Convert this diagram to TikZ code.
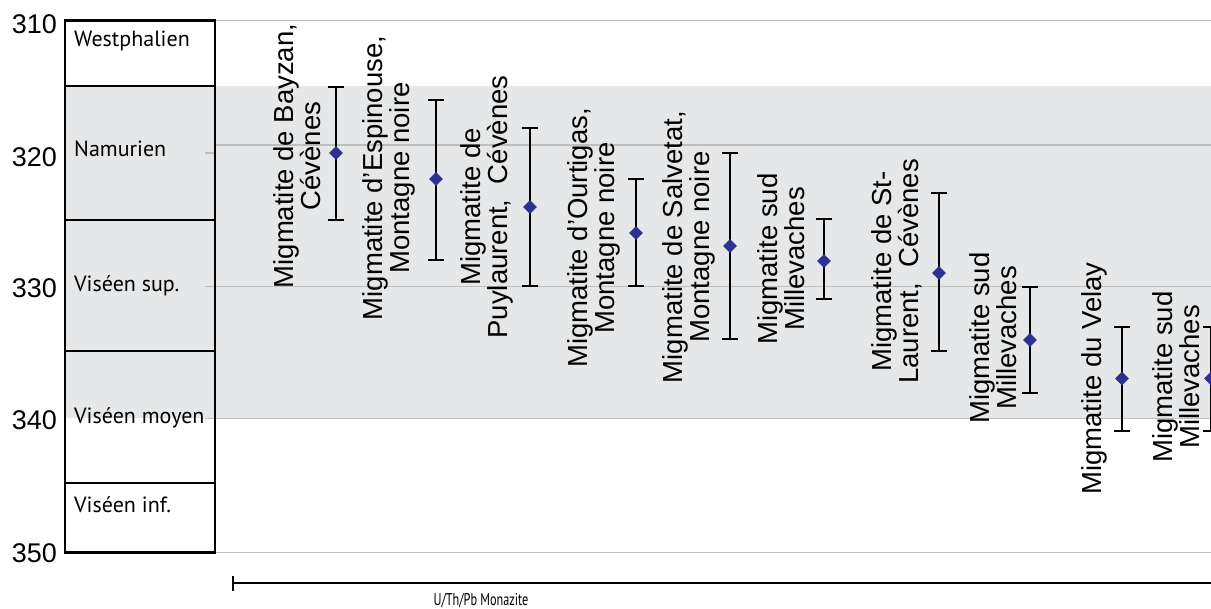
\documentclass[tikz,border=0pt]{standalone}
\usepackage{fontspec}
\setmainfont{Liberation Sans}
\newfontfamily\myriad{PT Sans}
\usetikzlibrary{shapes.geometric}
\definecolor{bandc}{RGB}{230,231,232}
\definecolor{gridc}{RGB}{190,190,190}
\definecolor{navyc}{RGB}{46,49,146}
\tikzset{
  gridline/.style={gridc, line width=1.3pt},
  boxline/.style={black, line width=2.5pt},
  stage/.style={anchor=base west, inner sep=0pt, font=\myriad\fontsize{22}{24}\selectfont},
  agenum/.style={anchor=east, inner sep=0pt, font=\fontsize{27}{30}\selectfont},
  lbl/.style={rotate=90, anchor=south, align=center, inner sep=0pt, font=\fontsize{27.5}{27}\selectfont},
  ebar/.style={black, line width=2pt},
  diam/.style={diamond, aspect=1, minimum width=14pt, minimum height=14pt, inner sep=0pt, fill=navyc, draw=none},
}
\begin{document}
\begin{tikzpicture}[x=1pt,y=-1pt]
\useasboundingbox (0,0) rectangle (1211,609);
\clip (0,0) rectangle (1211,609);
% shaded band
\fill[bandc] (65,86) rectangle (1211,418.3);
% grid lines
\foreach \y in {20.7,145,286.7,418.3,552.3} \draw[gridline] (215,\y) -- (1211,\y);
\foreach \y in {153,286.7,418.3} \draw[gridline] (205,\y) -- (215,\y);
% stratigraphic column
\draw[boxline] (65,20.7) rectangle (215,552.3);
\foreach \y in {86,220,351,483} \draw[boxline] (65,\y) -- (215,\y);
\node[stage] (s1) at (74,47) {Westphalien};
\node[stage] (s2) at (74,157) {Namurien};
\node[stage] (s3) at (74,292) {Viséen sup.};
\node[stage] (s4) at (74,424) {Viséen moyen};
\node[stage] (s5) at (74,513) {Viséen inf.};
% age numbers
\node[agenum] (a310) at (57,24) {310};
\node[agenum] (a320) at (57,157) {320};
\node[agenum] (a330) at (57,288) {330};
\node[agenum] (a340) at (57,420) {340};
\node[agenum] (a350) at (57,553) {350};
% error bars and diamonds
\foreach \n/\x/\t/\m/\b in {1/336/87/153/220, 2/436/100/179/260, 3/530/128/207/286, 4/636/179/233/286, 5/730/153/246/339, 6/824/219/261/299, 7/939/193/273/351, 8/1030/287/340/393, 9/1122/327/378.5/431.5, 10/1211/327/378.5/431.5}{
  \coordinate (t\n) at (\x,\t);
  \coordinate (b\n) at (\x,\b);
  \draw[ebar] (t\n) -- (b\n);
  \draw[ebar] ([xshift=-8pt]t\n) -- ([xshift=8pt]t\n);
  \draw[ebar] ([xshift=-8pt]b\n) -- ([xshift=8pt]b\n);
  \node[diam] (d\n) at (\x,\m) {};
}
% labels
\node[lbl] (l1) at (321,156) {Migmatite de Bayzan,\\Cévènes};
\node[lbl] (l2) at (415,178) {Migmatite d'Espinouse,\\Montagne noire};
\node[lbl] (l3) at (513,207) {Migmatite de\\Puylaurent,\ \ Cévènes};
\node[lbl] (l4) at (620,238) {Migmatite d'Ourtigas,\\Montagne noire};
\node[lbl] (l5) at (715,247) {Migmatite de Salvetat,\\Montagne noire};
\node[lbl] (l6) at (805,259) {Migmatite sud\\Millevaches};
\node[lbl] (l7) at (922,271.5) {Migmatite de St-\\Laurent,\ \ Cévènes};
\node[lbl] (l8) at (1017,338) {Migmatite sud\\Millevaches};
\node[lbl] (l9) at (1107,378.5) {Migmatite du Velay};
\node[lbl] (l10) at (1200,377) {Migmatite sud\\Millevaches};
% method bar
\coordinate (m0) at (233,583);
\coordinate (m1) at (1211,583);
\draw[black, line width=2pt] (m0) -- (m1);
\draw[black, line width=1.8pt] ([yshift=-8pt]m0) -- ([yshift=7pt]m0);
\node[anchor=base, inner sep=0pt, font=\myriad\fontsize{17}{20}\selectfont, xscale=0.72] (meth) at (481,605) {U/Th/Pb Monazite};
\end{tikzpicture}
\end{document}
